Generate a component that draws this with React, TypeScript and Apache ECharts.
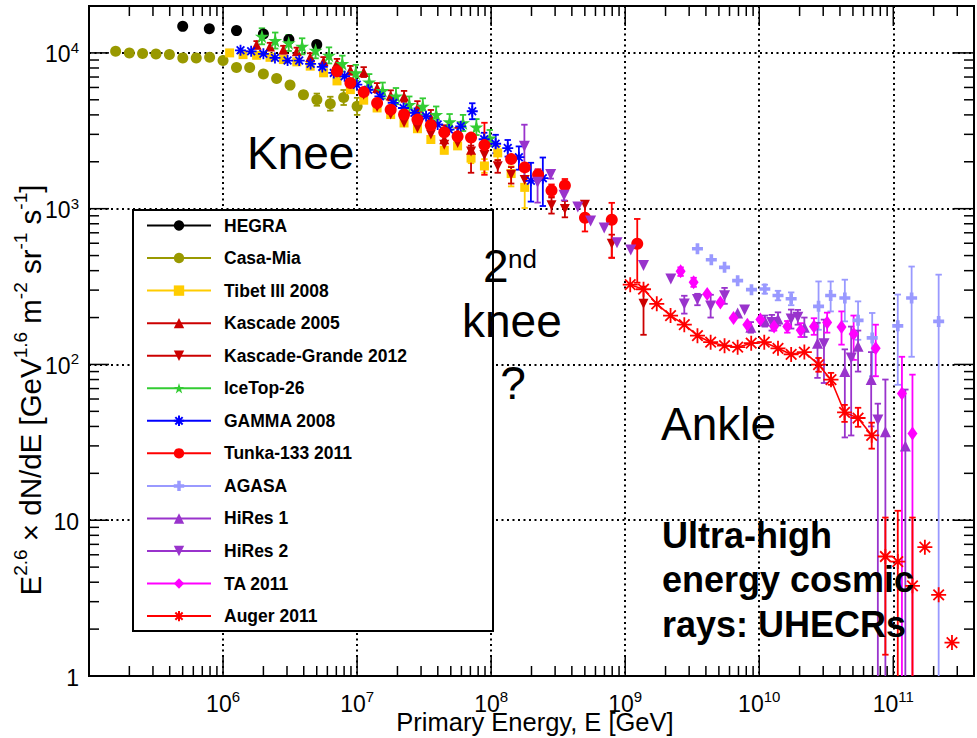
import React, { useEffect, useRef } from "react";
import * as echarts from "echarts";

const FONT = '"Liberation Sans", Arial, Helvetica, sans-serif';

const xMin = 1e5;
const xMax = 4e11;
const yMin = 1;
const yMax = 2e4;
const xMajorTicks = [1e6, 1e7, 1e8, 1e9, 1e10, 1e11];
const yMajorTicks = [1, 10, 100, 1000, 10000];

// [E (GeV), E^2.6 flux, errLow?, errHigh?]
const hegra = [[5.0e5, 14800], [7.9e5, 14300], [1.26e6, 13900], [2.0e6, 13200], [3.1e6, 12200], [5.0e6, 11300]];
const casaMia = [[1.58e5, 10240], [2.0e5, 10000], [2.51e5, 9900], [3.16e5, 9850], [3.98e5, 9750], [5.01e5, 9290], [6.31e5, 9290], [7.94e5, 9370], [1.0e6, 8930], [1.26e6, 8050], [1.58e6, 8050], [2.0e6, 7310], [2.51e6, 6840], [3.16e6, 6210], [3.98e6, 5390, 5110, 5680], [5.01e6, 5010, 4580, 5480], [6.31e6, 4720, 4260, 5230], [7.94e6, 5170, 4630, 5780], [1.0e7, 4540, 4000, 5150]];
const tibet = [[1.12e6, 10000], [1.41e6, 9750], [1.78e6, 9650], [2.24e6, 9370], [2.82e6, 9060], [3.55e6, 8760], [4.47e6, 8220], [5.62e6, 7450], [7.08e6, 6610], [8.91e6, 5810], [1.12e7, 4970], [1.41e7, 4430], [1.78e7, 4020], [2.24e7, 3550], [2.82e7, 3260], [3.55e7, 2780], [4.47e7, 2370], [5.62e7, 2530], [7.08e7, 2110, 1960, 2270], [8.91e7, 1880, 1700, 2080], [1.12e8, 2280, 2060, 2520], [1.41e8, 1680, 1390, 1870], [1.78e8, 1370, 1010, 1750]];
const kascade05 = [[1.78e6, 11300, 10700, 11900], [2.24e6, 11000, 10400, 11600], [2.82e6, 10500, 9900, 11100], [3.55e6, 10240, 9700, 10800], [4.47e6, 9400, 8900, 9950], [5.62e6, 8850, 8350, 9400], [7.08e6, 8620, 8100, 9150], [8.91e6, 7730, 7250, 8250], [1.12e7, 7530, 7000, 8100], [1.41e7, 5960, 5550, 6400], [1.78e7, 5320, 4950, 5750], [2.24e7, 5240, 4850, 5700], [2.82e7, 4450, 4050, 4900], [3.55e7, 3840, 3450, 4300], [4.47e7, 2790, 2270, 3430], [5.62e7, 3060, 2840, 3300], [7.08e7, 2390, 2250, 2540]];
const kascadeGrande = [[1.12e7, 5390], [1.41e7, 4490], [1.78e7, 4020], [2.24e7, 3560], [2.82e7, 3300], [3.55e7, 2990], [4.47e7, 2570], [5.62e7, 2640], [7.08e7, 2330, 1700, 2770], [8.91e7, 2210, 1950, 2500], [1.12e8, 1870, 1700, 2050], [1.41e8, 1650, 1450, 1850], [1.78e8, 1530], [2.82e8, 1050, 930, 1180], [3.55e8, 995, 880, 1120], [5.01e8, 1060], [7.94e8, 596, 484, 681], [1.37e9, 245, 155, 316]];
const iceTop = [[1.95e6, 12780, 11350, 14390], [2.45e6, 12000, 10660, 13510], [3.09e6, 11590, 10290, 13050], [3.89e6, 11020, 9790, 12410], [4.9e6, 10390, 9230, 11700], [6.17e6, 9640, 8560, 10850], [7.76e6, 8530, 7580, 9600], [9.77e6, 7440, 6610, 8380], [1.23e7, 6490, 5760, 7310], [1.55e7, 5730, 5090, 6450], [1.95e7, 5280, 4690, 5950], [2.45e7, 4660, 4140, 5250], [3.09e7, 4540, 4030, 5110], [3.89e7, 4020, 3570, 4530], [4.9e7, 3600, 3200, 4050], [6.17e7, 3550, 3150, 4000], [7.76e7, 3340, 2970, 3760], [9.77e7, 2840, 2520, 3200]];
const gamma = [[1.35e6, 10390], [1.62e6, 10240], [2.0e6, 9860], [2.44e6, 9290], [3.03e6, 8930], [3.7e6, 8930], [4.5e6, 8500], [5.5e6, 8130], [6.7e6, 7440], [8.07e6, 7080], [9.95e6, 6250], [1.21e7, 5800], [1.48e7, 5260], [1.86e7, 4770], [2.22e7, 4430], [2.68e7, 4120], [3.27e7, 3920], [3.99e7, 3470], [4.85e7, 3220], [5.93e7, 3380], [7.23e7, 4220, 3750, 4750], [8.87e7, 2790, 2390, 3070], [1.08e8, 2610, 2270, 2980], [1.33e8, 2450, 2160, 2760], [1.61e8, 2140, 1780, 2510], [1.98e8, 1510, 1110, 1970], [2.43e8, 1570, 1040, 2130]];
const tunka = [[7.08e6, 7620], [8.91e6, 6410], [1.12e7, 5600], [1.41e7, 4770], [1.78e7, 4320], [2.24e7, 4020], [2.82e7, 3730], [3.55e7, 3430], [4.47e7, 3090], [5.62e7, 2910], [7.08e7, 2860], [8.91e7, 2560, 1650, 3560], [1.41e8, 2080], [1.78e8, 1840], [2.24e8, 1650, 1520, 1790], [2.82e8, 1310, 1200, 1430], [3.55e8, 1410, 1280, 1550], [5.01e8, 875, 714, 1110], [7.94e8, 849, 484, 1090], [1.23e9, 596, 335, 859]];
const agasa = [[3.46e9, 553], [4.39e9, 470], [5.51e9, 420], [6.9e9, 345], [8.75e9, 302], [1.1e10, 305, 285, 325], [1.38e10, 277, 258, 297], [1.73e10, 264, 240, 290], [2.77e10, 236, 167, 341], [3.41e10, 277, 219, 341], [4.35e10, 267, 189, 350], [5.46e10, 192, 144, 254], [6.96e10, 148, 84, 214], [1.08e11, 177, 74, 281], [1.37e11, 267, 112, 425], [2.18e11, 189, 1, 377]];
const hires1 = [[6.9e9, 214], [8.65e9, 173, 160, 187], [1.1e10, 190, 175, 206], [1.38e10, 196, 178, 216], [2.17e10, 173, 150, 200], [2.72e10, 137, 82, 185], [4.35e10, 90, 34, 125], [5.46e10, 131, 90, 165], [6.84e10, 80, 40, 120], [8.73e10, 37, 1, 80], [1.23e11, 30, 1, 69]];
const hires2 = [[1.77e8, 2520, 1610, 3460], [2.22e8, 1480, 1094, 1780], [2.78e8, 1660, 1560, 1770], [3.5e8, 1220, 1130, 1310], [4.43e8, 1026], [5.52e8, 832], [6.97e8, 752], [8.69e8, 605], [1.1e9, 542], [1.37e9, 431], [2.19e9, 354], [2.76e9, 244, 212, 276], [3.46e9, 261, 240, 284], [4.34e9, 237, 200, 280], [5.51e9, 276, 245, 310], [7.78e9, 224], [1.24e10, 186, 165, 208], [1.73e10, 196, 170, 225], [1.94e10, 201, 180, 224], [3.04e10, 136, 76, 194], [4.85e10, 110, 35, 175], [7.67e10, 44, 1, 56]];
const ta = [[2.59e9, 396, 370, 420], [3.24e9, 337, 315, 360], [4.09e9, 283], [5.13e9, 250], [6.43e9, 199], [8.15e9, 180], [1.02e10, 194], [1.29e10, 175, 165, 186], [1.62e10, 175, 160, 190], [2.04e10, 166, 150, 184], [2.56e10, 175, 155, 198], [3.21e10, 186, 160, 215], [4.11e10, 174, 134, 219], [5.06e10, 157, 107, 206], [7.39e10, 127, 84, 180], [1.16e11, 65, 1, 112], [1.39e11, 36, 1, 86]];
const auger = [[1.09e9, 325], [1.37e9, 304], [1.72e9, 245], [2.18e9, 206], [2.76e9, 180], [3.46e9, 153], [4.34e9, 139], [5.51e9, 132], [6.9e9, 129], [8.71e9, 137], [1.09e10, 139], [1.38e10, 127], [1.73e10, 116], [2.17e10, 120], [2.77e10, 99.6, 89.8, 110], [3.43e10, 79.8, 74.1, 88.3], [4.33e10, 49.2, 42.8, 55], [5.46e10, 45.3, 39.8, 52.7], [6.9e10, 35.1, 28.8, 42.3]];
const augerTail = [[8.73e10, 5.85, 1.37, 10.4], [1.08e11, 5.43, 1, 11.5], [1.39e11, 3.79, 1, 10.4], [1.72e11, 6.71], [2.18e11, 3.32], [2.74e11, 1.64]];

const STAR = "path://M50,0L61.2,34.5L97.6,34.5L68.2,55.9L79.4,90.5L50,69.1L20.6,90.5L31.8,55.9L2.4,34.5L38.8,34.5Z";
const AST = "path://M5,0V10M0,5H10M1.5,1.5L8.5,8.5M1.5,8.5L8.5,1.5";
const PLUS = "path://M2,0H4V2H6V4H4V6H2V4H0V2H2Z";

type DS = { name: string; data: number[][]; color: string; symbol: string; size: any; rotate?: number; stroke?: boolean; line?: boolean; legend?: boolean };

const datasets: DS[] = [
  { name: "HEGRA", data: hegra, color: "#000000", symbol: "circle", size: 11 },
  { name: "Casa-Mia", data: casaMia, color: "#999900", symbol: "circle", size: 11 },
  { name: "Tibet III 2008", data: tibet, color: "#ffcc00", symbol: "rect", size: 9 },
  { name: "Kascade 2005", data: kascade05, color: "#cc0000", symbol: "triangle", size: 10 },
  { name: "Kascade-Grande 2012", data: kascadeGrande, color: "#cc0000", symbol: "triangle", size: 10, rotate: 180 },
  { name: "IceTop-26", data: iceTop, color: "#33cc33", symbol: STAR, size: 14 },
  { name: "GAMMA 2008", data: gamma, color: "#0000ff", symbol: AST, size: 11, stroke: true },
  { name: "Tunka-133 2011", data: tunka, color: "#ff0000", symbol: "circle", size: 12 },
  { name: "AGASA", data: agasa, color: "#9999ff", symbol: PLUS, size: 11 },
  { name: "HiRes 1", data: hires1, color: "#9933cc", symbol: "triangle", size: 11 },
  { name: "HiRes 2", data: hires2, color: "#9933cc", symbol: "triangle", size: 11, rotate: 180 },
  { name: "TA 2011", data: ta, color: "#ff00ff", symbol: "diamond", size: [10, 14] },
  { name: "Auger 2011", data: auger, color: "#ff0000", symbol: AST, size: 15, stroke: true, line: true },
  { name: "Auger 2011 tail", data: augerTail, color: "#ff0000", symbol: AST, size: 15, stroke: true, legend: false },
];

const tickSpecs: { axis: "x" | "y"; v: number; major: boolean }[] = [];
for (let d = 5; d <= 11; d++) {
  for (let m = 1; m <= 9; m++) {
    const v = m * Math.pow(10, d);
    if (v > xMin * 1.0001 && v < xMax * 0.9999) tickSpecs.push({ axis: "x", v, major: m === 1 });
  }
}
for (let d = 0; d <= 4; d++) {
  for (let m = 1; m <= 9; m++) {
    const v = m * Math.pow(10, d);
    if (v > yMin * 1.0001 && v < yMax * 0.9999) tickSpecs.push({ axis: "y", v, major: m === 1 });
  }
}

function isPow(v: number, list: number[]) {
  const l = Math.log10(v);
  const e = Math.round(l);
  if (Math.abs(l - e) > 1e-6) return null;
  return list.some((t) => Math.round(Math.log10(t)) === e) ? e : null;
}

function errRender(color: string) {
  return (params: any, api: any) => {
    const x = api.value(0);
    const lo = api.value(1);
    const hi = api.value(2);
    const a = api.coord([x, hi]);
    const b = api.coord([x, lo]);
    const cs = params.coordSys;
    const bottom = cs.y + cs.height;
    const y2 = Math.min(b[1], bottom);
    const w = 3.2;
    const style = { stroke: color, lineWidth: 1.8 };
    const children: any[] = [
      { type: "line", shape: { x1: a[0], y1: a[1], x2: a[0], y2 }, style },
      { type: "line", shape: { x1: a[0] - w, y1: a[1], x2: a[0] + w, y2: a[1] }, style },
    ];
    if (b[1] < bottom - 1) children.push({ type: "line", shape: { x1: a[0] - w, y1: b[1], x2: a[0] + w, y2: b[1] }, style });
    return { type: "group", children };
  };
}

function buildOption(): any {
  const series: any[] = [];
  series.push({
    type: "custom",
    name: "ticks",
    silent: true,
    z: 3,
    data: tickSpecs.map((t) => (t.axis === "x" ? [t.v, yMin] : [xMin, t.v])),
    renderItem: (params: any, api: any) => {
      const t = tickSpecs[params.dataIndex];
      const L = t.major ? 20 : 10;
      const st = { stroke: "#000", lineWidth: 1.5 };
      if (t.axis === "x") {
        const p0 = api.coord([t.v, yMin]);
        const p1 = api.coord([t.v, yMax]);
        return {
          type: "group",
          children: [
            { type: "line", shape: { x1: p0[0], y1: p0[1], x2: p0[0], y2: p0[1] - L }, style: st },
            { type: "line", shape: { x1: p1[0], y1: p1[1], x2: p1[0], y2: p1[1] + L }, style: st },
          ],
        };
      }
      const p0 = api.coord([xMin, t.v]);
      const p1 = api.coord([xMax, t.v]);
      return {
        type: "group",
        children: [
          { type: "line", shape: { x1: p0[0], y1: p0[1], x2: p0[0] + L, y2: p0[1] }, style: st },
          { type: "line", shape: { x1: p1[0], y1: p1[1], x2: p1[0] - L, y2: p1[1] }, style: st },
        ],
      };
    },
  });

  datasets.forEach((ds) => {
    const errs = ds.data.filter((p) => p.length >= 4).map((p) => [p[0], p[2], p[3]]);
    if (errs.length) {
      series.push({
        type: "custom",
        name: ds.name + " err",
        silent: true,
        data: errs,
        renderItem: errRender(ds.color),
      });
    }
    series.push({
      type: "line",
      name: ds.name,
      data: ds.data.map((p) => [p[0], p[1]]),
      symbol: ds.symbol,
      symbolSize: ds.size,
      symbolRotate: ds.rotate || 0,
      showSymbol: true,
      silent: true,
      itemStyle: {
        color: ds.color,
        borderColor: ds.color,
        borderWidth: ds.stroke ? 1.8 : 0,
        opacity: 1,
      },
      lineStyle: { color: ds.color, width: 1.6, opacity: ds.line ? 1 : 0 },
      emphasis: { disabled: true },
    });
  });

  const supRich = {
    b: { fontSize: 23, fontFamily: FONT, color: "#000", lineHeight: 26, verticalAlign: "bottom" },
    s: { fontSize: 15, fontFamily: FONT, color: "#000", lineHeight: 18, verticalAlign: "top" },
  };

  const bigText = (text: string, x: number, y: number, size: number, bold = false, align = "left") => ({
    type: "text",
    x,
    y,
    z: 30,
    style: {
      text,
      fontSize: size,
      fontFamily: FONT,
      fontWeight: bold ? "bold" : "normal",
      fill: "#000",
      align,
      verticalAlign: "middle",
    },
  });

  return {
    animation: false,
    backgroundColor: "#ffffff",
    grid: { left: 89, top: 6, right: -6, bottom: 62, show: true, borderColor: "#000", borderWidth: 2 },
    xAxis: {
      type: "log",
      logBase: 10,
      min: xMin,
      max: xMax,
      axisLine: { show: false },
      axisTick: { show: false },
      splitLine: { show: true, lineStyle: { color: "#000", width: 2, type: [2, 3.5] } },
      axisLabel: {
        margin: 13,
        formatter: (v: number) => {
          const e = isPow(v, xMajorTicks);
          return e === null ? "" : `{b|10}{s|${e}}`;
        },
        rich: supRich,
      },
    },
    yAxis: {
      type: "log",
      logBase: 10,
      min: yMin,
      max: yMax,
      axisLine: { show: false },
      axisTick: { show: false },
      splitLine: { show: true, lineStyle: { color: "#000", width: 2, type: [2, 3.5] } },
      axisLabel: {
        margin: 10,
        formatter: (v: number) => {
          const e = isPow(v, yMajorTicks);
          if (e === null) return "";
          if (e === 0) return "{b|1}";
          if (e === 1) return "{b|10}";
          return `{b|10}{s|${e}}`;
        },
        rich: supRich,
      },
    },
    legend: {
      data: datasets.filter((d) => d.legend !== false).map((d) => d.name),
      orient: "vertical",
      left: 146,
      top: 216.5,
      padding: 0,
      itemWidth: 64,
      itemHeight: 13,
      itemGap: 14.55,
      selectedMode: false,
      z: 20,
      textStyle: { fontFamily: FONT, fontSize: 17.5, fontWeight: "bold", color: "#000", lineHeight: 13, padding: [0, 0, 0, 8] },
      lineStyle: { width: 2, opacity: 1 },
    },
    graphic: [
      { type: "rect", z: 15, shape: { x: 133, y: 210, width: 360, height: 421 }, style: { fill: "#fff", stroke: "#000", lineWidth: 2 } },
      bigText("Knee", 247, 153, 46),
      bigText("2", 483, 266, 46),
      bigText("nd", 508, 259, 26),
      bigText("knee", 462, 321, 46),
      bigText("?", 513, 383, 46, false, "center"),
      bigText("Ankle", 661, 424, 46),
      bigText("Ultra-high", 662, 535, 36, true),
      bigText("energy cosmic", 662, 579, 36, true),
      bigText("rays: UHECRs", 662, 624, 36, true),
      {
        type: "text",
        x: 535,
        y: 722,
        z: 30,
        style: { text: "Primary Energy, E [GeV]", fontSize: 25.5, fontFamily: FONT, fill: "#000", align: "center", verticalAlign: "middle" },
      },
      {
        type: "text",
        x: 28,
        y: 390,
        rotation: Math.PI / 2,
        z: 30,
        style: {
          text: "{b|E}{s|2.6}{b| × dN/dE [GeV}{s|1.6}{b| m}{s|-2}{b| sr}{s|-1}{b| s}{s|-1}{b|]}",
          align: "center",
          verticalAlign: "middle",
          fill: "#000",
          rich: {
            b: { fontSize: 29.5, fontFamily: FONT, fill: "#000", lineHeight: 34, verticalAlign: "bottom" },
            s: { fontSize: 19, fontFamily: FONT, fill: "#000", lineHeight: 22, verticalAlign: "top" },
          },
        },
      },
    ],
    series,
  };
}

export default function App() {
  const ref = useRef<HTMLDivElement>(null);
  useEffect(() => {
    if (!ref.current) return;
    const chart = echarts.init(ref.current, undefined, { renderer: "svg" });
    chart.setOption(buildOption());
    return () => chart.dispose();
  }, []);
  return <div ref={ref} style={{ position: "absolute", left: 0, top: 0, width: 977, height: 738, background: "#fff" }} />;
}
